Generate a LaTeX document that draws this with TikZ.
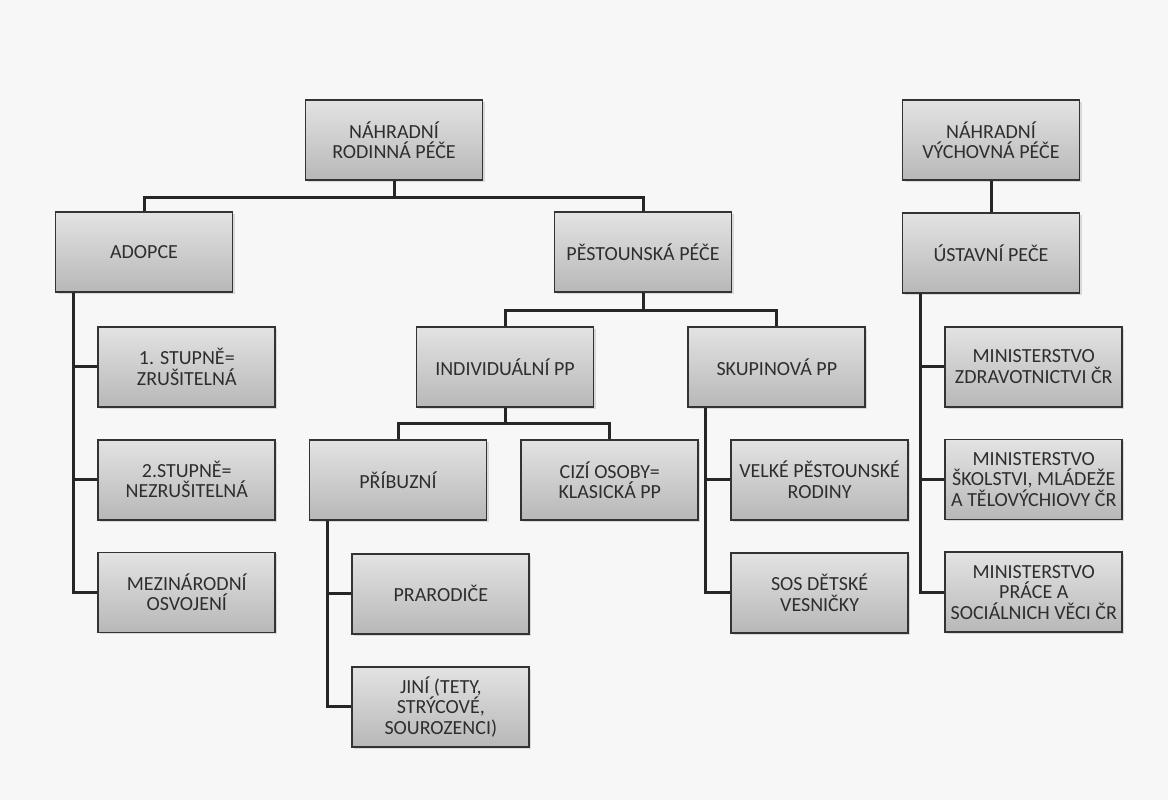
\documentclass[tikz,border=0pt]{standalone}
\usepackage{fontspec}
\setmainfont{Carlito}
\usepackage{xcolor}
\usepackage{tikz}
\usetikzlibrary{positioning,shadows}

\begin{document}
\begin{tikzpicture}[x=1pt, y=1pt, node distance=31pt,
    box/.style={rectangle, draw=black!80, line width=1.8pt, top color=black!11, bottom color=black!28, text=black!82, font=\fontsize{20}{20.5}\selectfont, align=center, minimum width=177pt, minimum height=80pt, inner sep=1pt, drop shadow={shadow xshift=2pt, shadow yshift=-2pt, opacity=.25}},
    link/.style={draw=black!85, line width=3pt}]
        \useasboundingbox[fill=black!3] (0,0) rectangle (1168,-800);

        \node[box] (nrp) at (394,-140) {NÁHRADNÍ\\RODINNÁ PÉČE};
        \node[box] (nvp) at (991,-140) {NÁHRADNÍ\\VÝCHOVNÁ PÉČE};
        \node[box, below=of nvp] (ustav) {ÚSTAVNÍ PEČE};
        \node[box] (adopce) at (144,-252) {ADOPCE};
        \node[box] (pestoun) at (643,-252) {PĚSTOUNSKÁ PÉČE};
        \node[box, below right=33pt and -136pt of adopce] (st1) {1. STUPNĚ=\\ZRUŠITELNÁ};
        \node[box, below=of st1] (st2) {2.STUPNĚ=\\NEZRUŠITELNÁ};
        \node[box, below=of st2] (mezi) {MEZINÁRODNÍ\\OSVOJENÍ};
        \node[box] (indiv) at (505,-367) {INDIVIDUÁLNÍ PP};
        \node[box, right=93pt of indiv] (skup) {SKUPINOVÁ PP};
        \node[box] (pribuz) at (398,-480) {PŘÍBUZNÍ};
        \node[box, right=33pt of pribuz] (cizi) {CIZÍ OSOBY=\\KLASICKÁ PP};
        \node[box, below right=32pt and -136pt of pribuz] (prarod) {PRARODIČE};
        \node[box, below=of prarod] (jini) {JINÍ (TETY,\\STRÝCOVÉ,\\SOUROZENCI)};
        \node[box, below right=31pt and -136pt of skup] (velke) {VELKÉ PĚSTOUNSKÉ\\RODINY};
        \node[box, below=of velke] (sos) {SOS DĚTSKÉ\\VESNIČKY};
        \node[box, below right=32pt and -136pt of ustav] (min1) {MINISTERSTVO\\ZDRAVOTNICTVI ČR};
        \node[box, below=of min1] (min2) {MINISTERSTVO\\ŠKOLSTVI, MLÁDEŽE\\A TĚLOVÝCHIOVY ČR};
        \node[box, below=of min2] (min3) {MINISTERSTVO\\PRÁCE A\\SOCIÁLNICH VĚCI ČR};

        \draw[link] (nrp.south) -- ++(0,-17) coordinate (j1);
        \draw[link] (adopce.north) |- (j1) -| (pestoun.north);
        \draw[link] (pestoun.south) -- ++(0,-18) coordinate (j2);
        \draw[link] (indiv.north) |- (j2) -| (skup.north);
        \draw[link] (indiv.south) -- ++(0,-16) coordinate (j3);
        \draw[link] (pribuz.north) |- (j3) -| (cizi.north);
        \draw[link] (nvp) -- (ustav);
        \draw[link] ([xshift=19pt]adopce.south west) |- (st1.west);
        \draw[link] ([xshift=19pt]adopce.south west) |- (st2.west);
        \draw[link] ([xshift=19pt]adopce.south west) |- (mezi.west);
        \draw[link] ([xshift=19pt]pribuz.south west) |- (prarod.west);
        \draw[link] ([xshift=19pt]pribuz.south west) |- (jini.west);
        \draw[link] ([xshift=18pt]skup.south west) |- (velke.west);
        \draw[link] ([xshift=18pt]skup.south west) |- (sos.west);
        \draw[link] ([xshift=19pt]ustav.south west) |- (min1.west);
        \draw[link] ([xshift=19pt]ustav.south west) |- (min2.west);
        \draw[link] ([xshift=19pt]ustav.south west) |- (min3.west);
\end{tikzpicture}
\end{document}
